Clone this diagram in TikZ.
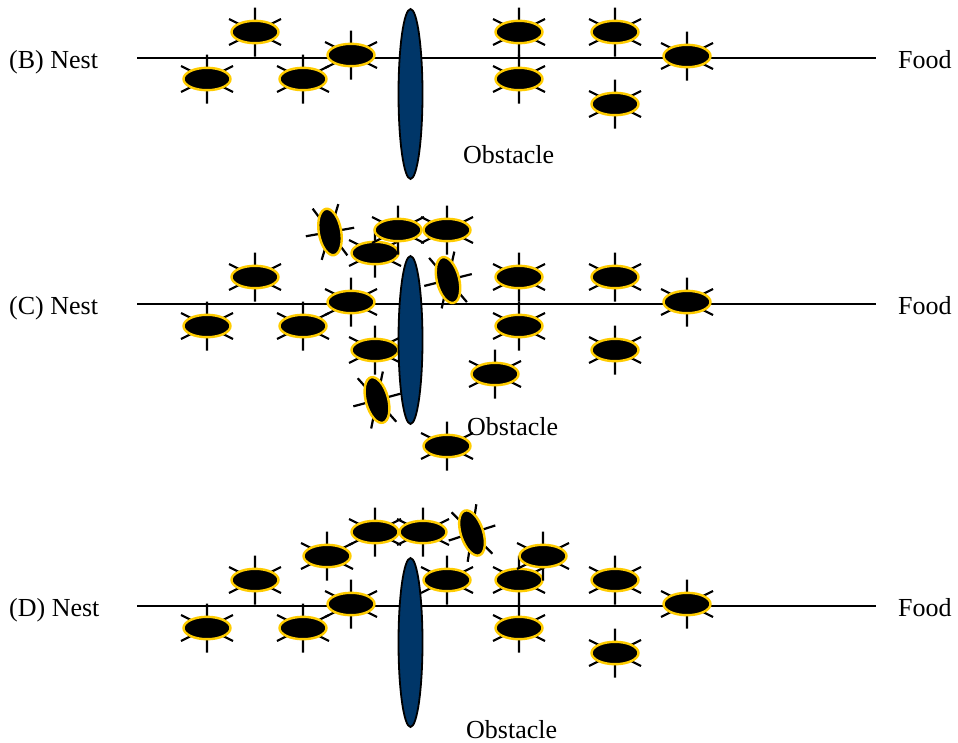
\documentclass[tikz,border=0pt]{standalone}
\usepackage{fontspec}
\setmainfont{Liberation Serif}
\definecolor{antrim}{RGB}{255,204,0}
\definecolor{rockblue}{RGB}{0,54,104}
\tikzset{
  x=1pt, y=-1pt,
  leg/.style={draw=black, line width=2.2pt},
  antbody/.style={fill=black, draw=antrim, line width=2.4pt},
  trail/.style={draw=black, line width=1.8pt},
  rock/.style={fill=rockblue, draw=black, line width=1.8pt},
  lbl/.style={anchor=base west, inner sep=0pt, font=\fontsize{26}{31}\selectfont},
  ant/.pic={
    \draw[leg] (0,-24.5) -- (0,24.5) (-26,-13) -- (26,13) (-26,13) -- (26,-13);
    \path[antbody] (0,0) ellipse[x radius=23.5, y radius=11.2];
  }
}
\begin{document}
\begin{tikzpicture}
\useasboundingbox (0,0) rectangle (958,742);

% ---------------- panel B ----------------
\node[lbl] (nestB) at (9,68) {(B) Nest};
\node[lbl] (foodB) at (898,68) {Food};
\coordinate (tB0) at (137,58);
\coordinate (tB1) at (876,58);
\draw[trail] (tB0) -- (tB1);
\foreach \p in {(255,32),(207,79),(303,79),(351,55),(519,32),(519,79),(615,32),(615,104),(687,56)}
  \pic at \p {ant};
\path[rock] (410.5,94) ellipse[x radius=12, y radius=85];
\node[lbl] (obsB) at (463,163) {Obstacle};

% ---------------- panel C ----------------
\node[lbl] (nestC) at (9,314) {(C) Nest};
\node[lbl] (foodC) at (898,314) {Food};
\coordinate (tC0) at (137,304);
\coordinate (tC1) at (876,304);
\draw[trail] (tC0) -- (tC1);
\foreach \p in {(255,277),(207,326),(303,326),(351,302),(375,253),(398,230),(447,230),
                (375,350),(519,277),(519,326),(495,374),(615,277),(615,350),(687,302),(447,446)}
  \pic at \p {ant};
\pic[rotate=-80] at (330,232) {ant};
\pic[rotate=-76] at (448,280) {ant};
\pic[rotate=-75] at (377,400) {ant};
\path[rock] (410.5,340) ellipse[x radius=12, y radius=84];
\node[lbl] (obsC) at (467,435) {Obstacle};

% ---------------- panel D ----------------
\node[lbl] (nestD) at (9,616) {(D) Nest};
\node[lbl] (foodD) at (898,616) {Food};
\coordinate (tD0) at (137,606);
\coordinate (tD1) at (876,606);
\draw[trail] (tD0) -- (tD1);
\foreach \p in {(255,580),(207,628),(303,628),(351,604),(327,556),(375,532),(423,532),
                (447,580),(519,580),(543,556),(519,628),(615,580),(615,653),(687,604)}
  \pic at \p {ant};
\pic[rotate=-72] at (472,533) {ant};
\path[rock] (410.5,642.5) ellipse[x radius=12, y radius=84.5];
\node[lbl] (obsD) at (466,738) {Obstacle};
\end{tikzpicture}
\end{document}
